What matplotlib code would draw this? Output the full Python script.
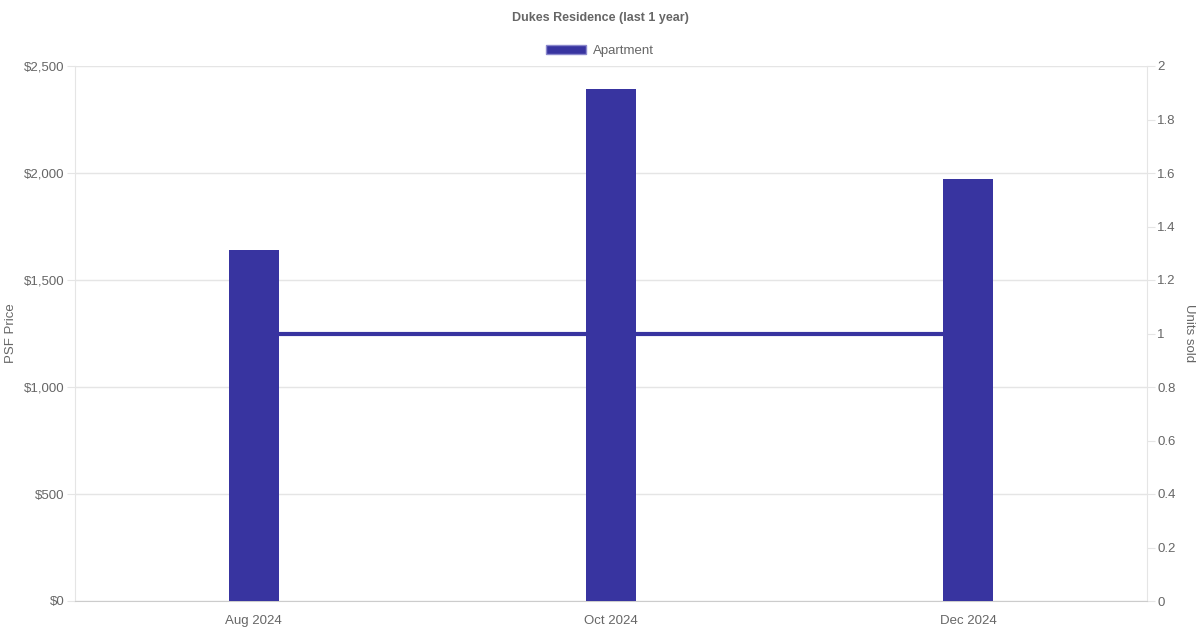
import matplotlib.pyplot as plt
from matplotlib.patches import Patch

plt.rcParams['font.family'] = ['Liberation Sans', 'DejaVu Sans']

months = ['Aug 2024', 'Oct 2024', 'Dec 2024']
psf_price = [1640, 2392, 1972]
units_sold = [1, 1, 1]

bar_color = '#3834a0'
text_color = '#666666'
grid_color = '#e5e5e5'

fig = plt.figure(figsize=(12, 6.3), dpi=100)
ax = fig.add_axes([75 / 1200, 29 / 630, 1072 / 1200, 535 / 630])
ax2 = ax.twinx()

x = list(range(len(months)))
bar_w = 50 / (1072 / 3)

ax.bar(x, psf_price, width=bar_w, color=bar_color, zorder=3)
ax2.plot(x, units_sold, color=bar_color, linewidth=3, zorder=1)

ax.set_xlim(-0.5, len(months) - 0.5)
ax.set_ylim(0, 2500)
ax2.set_ylim(0, 2)
ax.set_zorder(ax2.get_zorder() + 1)
ax.patch.set_visible(False)

ax.set_xticks(x)
ax.set_xticklabels(months)
ax.set_yticks(range(0, 2501, 500))
ax.set_yticklabels(['$' + format(v, ',') for v in range(0, 2501, 500)])
ax2.set_yticks([i / 5 for i in range(11)])
ax2.set_yticklabels(['0', '0.2', '0.4', '0.6', '0.8', '1', '1.2', '1.4', '1.6', '1.8', '2'])

ax.grid(axis='y', color=grid_color, linewidth=1, zorder=0)
ax.tick_params(axis='x', length=0, pad=10, colors=text_color, labelsize=9.5)
ax.tick_params(axis='y', length=6, color=grid_color, colors=text_color, labelsize=9.5, pad=1.5)
ax2.tick_params(axis='y', length=6, color=grid_color, labelcolor=text_color, labelsize=9.5, pad=1.5)
for a in (ax, ax2):
    for s in a.spines.values():
        s.set_visible(False)
ax.spines['bottom'].set_visible(True)
ax.spines['bottom'].set_color('#cccccc')
ax.spines['left'].set_visible(True)
ax.spines['left'].set_color(grid_color)
ax2.spines['right'].set_visible(True)
ax2.spines['right'].set_color(grid_color)
for lbl in ax.get_yticklabels() + ax2.get_yticklabels():
    lbl.set_color(text_color)

ax.set_ylabel('PSF Price', color=text_color, fontsize=9.5, va='center')
ax.yaxis.set_label_coords((11 - 75) / 1072, 0.5)
ax2.set_ylabel('Units sold', color=text_color, fontsize=9.5, rotation=270, va='center')
ax2.yaxis.set_label_coords((1189 - 75) / 1072, 0.5)

fig.text(0.5, 1 - 18 / 630, 'Dukes Residence (last 1 year)', ha='center', va='center',
         fontsize=9, fontweight='bold', color=text_color)
fig.legend(handles=[Patch(facecolor=bar_color, edgecolor='#8a88cc', linewidth=1, label='Apartment')],
           loc='center', bbox_to_anchor=(0.5, 1 - 51 / 630), frameon=False,
           handlelength=3.0, handleheight=0.7, fontsize=9.5, labelcolor=text_color,
           handletextpad=0.5)

fig.savefig('out.png', dpi=100)
